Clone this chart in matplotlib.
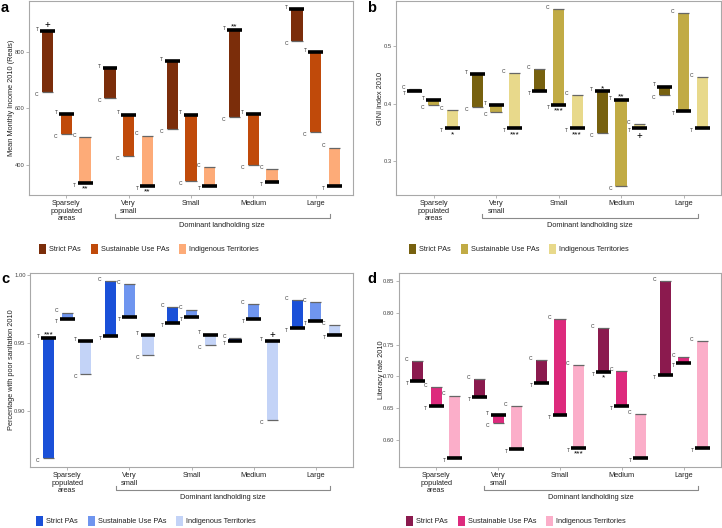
import matplotlib.pyplot as plt
from matplotlib.patches import Patch

plt.rcParams['font.family'] = ['Liberation Sans', 'DejaVu Sans']

categories = ["Sparsely\npopulated\nareas", "Very\nsmall", "Small", "Medium", "Large"]
series_names = ["Strict PAs", "Sustainable Use PAs", "Indigenous Territories"]

# mean monthly income (T = treated, C = control)
income_T_strict = [872, 741, 768, 878, 952]
income_C_strict = [656, 635, 527, 568, 839]
income_T_sust = [579, 577, 577, 579, 800]
income_C_sust = [508, 430, 342, 397, 517]
income_T_indig = [335, 324, 324, 337, 324]
income_C_indig = [498, 503, 390, 383, 460]
income_sig = [(0, 0, '+', 'above'), (0, 2, '**', 'below'), (1, 2, '**', 'below'), (3, 0, '**', 'above')]

# GINI index
gini_T_strict = [0.4225, 0.4512, 0.4225, 0.4218, 0.430]
gini_C_strict = [0.4253, 0.3936, 0.4606, 0.3498, 0.416]
gini_T_sust = [0.4069, 0.3983, 0.398, 0.4063, 0.388]
gini_C_sust = [0.3976, 0.3855, 0.5644, 0.257, 0.5574]
gini_T_indig = [0.357, 0.357, 0.357, 0.357, 0.357]
gini_C_indig = [0.3884, 0.4536, 0.4156, 0.3647, 0.4467]
gini_sig = [(0, 2, '*', 'below'), (1, 2, '***', 'below'), (2, 1, '***', 'below'), (2, 2, '***', 'below'),
            (3, 0, '*', 'above'), (3, 1, '**', 'above'), (3, 2, '+', 'below')]

# poor sanitation
sanit_T_strict = [0.9537, 0.9551, 0.9647, 0.9519, 0.961]
sanit_C_strict = [0.8654, 0.9958, 0.9769, 0.9539, 0.9816]
sanit_T_sust = [0.9681, 0.9696, 0.9696, 0.9681, 0.9662]
sanit_C_sust = [0.9725, 0.9934, 0.9747, 0.9791, 0.9804]
sanit_T_indig = [0.9515, 0.9561, 0.9563, 0.9515, 0.9563]
sanit_C_indig = [0.9272, 0.9416, 0.949, 0.8936, 0.9632]
sanit_sig = [(0, 0, '***', 'above'), (3, 2, '+', 'above')]

# literacy
lit_T_strict = [0.693, 0.668, 0.6894, 0.7065, 0.7019]
lit_C_strict = [0.7237, 0.6956, 0.7253, 0.7752, 0.8494]
lit_T_sust = [0.6545, 0.640, 0.6395, 0.6545, 0.7215]
lit_C_sust = [0.6832, 0.6275, 0.7892, 0.7081, 0.730]
lit_T_indig = [0.5718, 0.5865, 0.5885, 0.5718, 0.5885]
lit_C_indig = [0.670, 0.6535, 0.7184, 0.6411, 0.7558]
lit_sig = [(2, 2, '***', 'below'), (3, 0, '*', 'below')]

W, H = 722, 528
TXT = '#222222'
GRID = '#a8a8a8'
FS = 5.3


def panel(fig, box, letter, letter_xy, T, C, sig, colors, ylim, yticks, ytlabels, ylabel, ylab_dx, leg_x):
    l, t, r, b = box
    ax = fig.add_axes([l / W, 1 - b / H, (r - l) / W, (b - t) / H])
    offsets = [-0.3, 0.0, 0.3]
    for s in range(3):
        for g in range(5):
            x = g + offsets[s]
            tv, cv = T[s][g], C[s][g]
            lo, hi = min(tv, cv), max(tv, cv)
            ax.bar(x, hi - lo, bottom=lo, width=0.18, color=colors[s], linewidth=0)
            ax.hlines(cv, x - 0.09, x + 0.09, color='#666666', lw=0.9)
            ax.hlines(tv, x - 0.12, x + 0.12, color='black', lw=2.6)
            for val, lab in ((tv, 'T'), (cv, 'C')):
                dy = 1.2 if val == hi else -1.8
                ax.annotate(lab, (x - 0.11, val), xytext=(-1.5, dy), textcoords='offset points',
                            ha='right', va='center', fontsize=3.6, color='#333333')
    for g, s, txt, pos in sig:
        x = g + offsets[s]
        tv = T[s][g]
        fs = 7 if txt == '+' else 6
        if pos == 'above':
            ax.annotate(txt, (x, tv), xytext=(0, 0.8 if txt == '+' else -0.5), textcoords='offset points',
                        ha='center', va='bottom', fontsize=fs, color='black')
        else:
            ax.annotate(txt, (x, tv), xytext=(0, -1.8), textcoords='offset points',
                        ha='center', va='top', fontsize=fs, color='black')

    ax.set_xlim(-0.6, 4.6)
    ax.set_ylim(*ylim)
    ax.set_yticks(yticks)
    ax.set_yticklabels(ytlabels)
    ax.set_xticks(range(5))
    ax.set_xticklabels(categories, fontsize=FS, color=TXT, linespacing=1.15, va='top')
    ax.tick_params(axis='both', length=2, color=GRID, width=0.6)
    ax.tick_params(axis='y', labelsize=4.2, labelcolor='#444444', pad=1.2)
    ax.tick_params(axis='x', pad=1.5)
    for sp in ax.spines.values():
        sp.set_color(GRID)
        sp.set_linewidth(0.8)
    ax.set_ylabel(ylabel, fontsize=FS, color=TXT)
    ax.yaxis.set_label_coords(-ylab_dx / (r - l), 0.5)
    ax.yaxis.label.set_verticalalignment('center')

    # bracket for landholding sizes
    tr = ax.get_xaxis_transform()
    yb = -22.7 / (b - t)
    ytop = -18.5 / (b - t)
    ax.plot([0.78, 0.78, 4.23, 4.23], [ytop, yb, yb, ytop], transform=tr, color='#8a8a8a',
            lw=0.8, clip_on=False)
    ax.text(2.5, yb - 4 / (b - t), "Dominant landholding size", transform=tr, ha='center',
            va='top', fontsize=FS, color=TXT)

    handles = [Patch(facecolor=c, edgecolor='none') for c in colors]
    ax.legend(handles, series_names, loc='center left', bbox_to_anchor=(leg_x, -0.278),
              frameon=False, ncol=3, fontsize=FS, handlelength=0.95, handleheight=1.6,
              handletextpad=0.4, columnspacing=1.35, borderpad=0, borderaxespad=0,
              labelcolor=TXT)

    fig.text(letter_xy[0] / W, 1 - letter_xy[1] / H, letter, fontsize=10.5,
             fontweight='bold', va='center', ha='left', color='black')
    return ax


def main():
    fig = plt.figure(figsize=(W / 100, H / 100), dpi=100)

    panel(fig, (29, 1, 353, 195), 'a', (1, 8),
          [income_T_strict, income_T_sust, income_T_indig],
          [income_C_strict, income_C_sust, income_C_indig], income_sig,
          ['#7b2d0a', '#c04a0a', '#fdab78'], (292, 980), [400, 600, 800],
          ["400", "600", "800"], "Mean Monthly Income 2010 (Reais)", 17, 0.031)
    panel(fig, (396, 1, 721, 195), 'b', (367, 8),
          [gini_T_strict, gini_T_sust, gini_T_indig],
          [gini_C_strict, gini_C_sust, gini_C_indig], gini_sig,
          ['#77610f', '#c1ab45', '#e8d98b'], (0.241, 0.579), [0.3, 0.4, 0.5],
          ["0.3", "0.4", "0.5"], "GINI index 2010", 15, 0.04)
    panel(fig, (30, 273, 353, 467), 'c', (1, 279),
          [sanit_T_strict, sanit_T_sust, sanit_T_indig],
          [sanit_C_strict, sanit_C_sust, sanit_C_indig], sanit_sig,
          ['#1a50d8', '#6f95ef', '#c3d3f7'], (0.8588, 1.0017), [0.90, 0.95, 1.00],
          ["0.90", "0.95", "1.00"], "Percentage with poor sanitation 2010", 18, 0.019)
    panel(fig, (399, 273, 721, 467), 'd', (367, 279),
          [lit_T_strict, lit_T_sust, lit_T_indig],
          [lit_C_strict, lit_C_sust, lit_C_indig], lit_sig,
          ['#8b1a4e', '#dd2a7d', '#fbaec9'], (0.5584, 0.8619),
          [0.60, 0.65, 0.70, 0.75, 0.80, 0.85],
          ["0.60", "0.65", "0.70", "0.75", "0.80", "0.85"], "Literacy rate 2010", 18, 0.022)

    fig.savefig("out.png", dpi=100, facecolor='white')


if __name__ == "__main__":
    main()
